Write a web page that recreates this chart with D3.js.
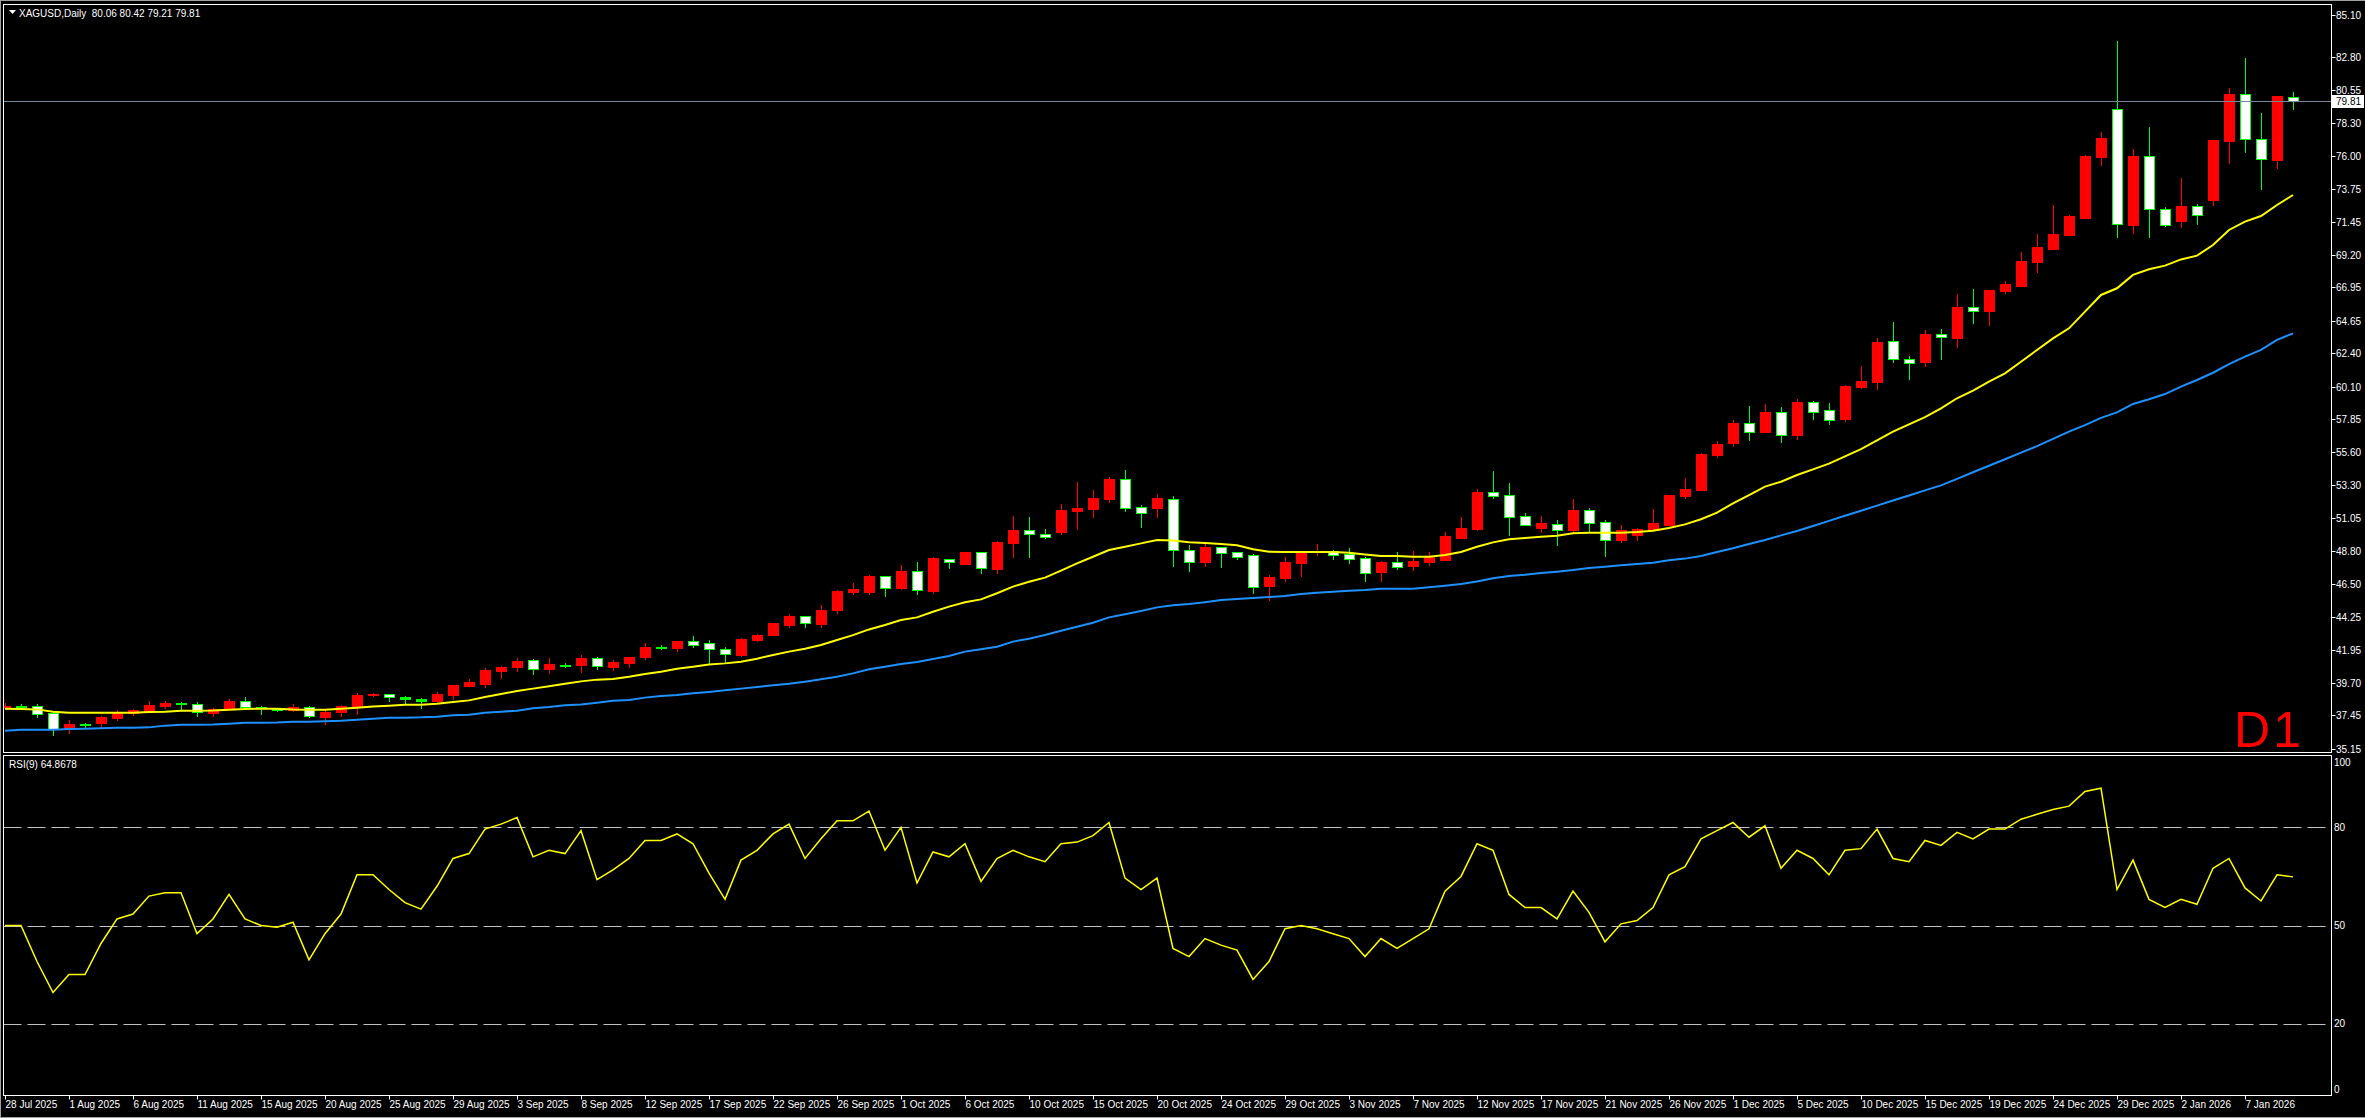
<!DOCTYPE html>
<html><head><meta charset="utf-8">
<script src="https://d3js.org/d3.v7.min.js"></script>
<style>
html,body{margin:0;padding:0;background:#000;overflow:hidden}
svg{display:block}
text{font-family:"Liberation Sans",Arial,sans-serif}
</style></head>
<body>
<script>
// ---------------- DATA ----------------
const symbolTitle = "XAGUSD,Daily";
const titleOHLC = "80.06 80.42 79.21 79.81";
const rsiTitle = "RSI(9) 64.8678";
const currentPrice = 79.81;

const open = [38.02,38.08,38.07,37.59,36.50,36.85,36.92,37.29,37.59,37.77,38.11,38.29,38.25,37.63,37.88,38.41,38.01,37.89,37.82,38.00,
37.36,37.70,38.02,38.89,38.90,38.69,38.55,38.46,38.87,39.47,39.63,40.50,40.78,41.26,40.64,40.95,40.94,41.38,40.80,41.08,
41.49,42.14,42.11,42.55,42.41,42.00,41.61,42.66,43.01,43.70,44.27,43.77,44.73,45.97,45.97,47.03,46.25,47.37,46.02,48.25,
47.90,48.68,47.53,49.35,50.20,49.92,50.11,51.55,51.69,52.38,53.71,51.78,51.76,52.34,48.82,48.04,49.03,48.68,48.48,46.38,
46.94,47.95,48.70,48.75,48.57,48.27,47.35,48.00,47.74,48.04,48.15,49.67,50.27,52.82,52.61,51.16,50.36,50.61,50.22,51.58,
50.75,49.53,49.88,50.22,50.57,52.56,52.98,55.39,56.22,57.57,56.97,58.33,56.77,59.02,58.47,57.85,60.10,60.45,63.22,61.98,
61.82,63.71,63.48,65.57,65.34,66.72,67.06,68.71,69.61,70.55,71.75,75.95,79.24,71.26,75.97,72.32,71.54,72.53,72.99,77.05,
80.25,77.15,75.74,80.06];
const high = [38.28,38.23,38.23,37.70,37.13,36.94,37.40,37.79,37.86,38.44,38.44,38.37,38.37,37.95,38.57,38.69,38.09,37.95,38.23,38.07,
37.82,38.16,38.96,38.96,38.94,38.78,38.64,39.06,39.54,39.95,40.71,40.87,41.40,41.33,41.40,41.05,41.61,41.47,41.24,41.45,
42.43,42.30,42.57,42.92,42.64,42.13,42.78,43.05,43.81,44.43,44.27,45.05,46.09,46.57,47.12,47.03,47.81,48.02,48.36,48.25,
48.70,48.68,49.46,51.19,51.12,50.29,52.01,53.53,52.98,53.88,54.36,51.92,52.70,52.54,49.19,49.23,49.03,48.73,48.57,47.12,
48.36,48.66,49.26,48.84,48.98,48.34,48.06,48.71,48.77,48.68,50.08,51.12,53.05,54.29,53.46,51.37,51.19,50.89,52.36,51.74,
50.91,50.57,50.34,51.67,52.63,53.81,55.53,56.35,57.80,58.77,58.90,58.70,59.25,59.11,58.95,60.22,61.52,63.45,64.56,62.21,
64.00,64.07,66.49,66.83,66.76,67.38,69.38,70.62,72.62,71.93,76.07,77.65,83.92,76.48,77.99,72.46,74.48,72.69,77.10,80.68,
82.75,78.96,80.13,80.42];
const low = [37.98,37.93,37.36,36.09,36.25,36.67,36.58,37.13,37.50,37.77,37.93,37.91,37.43,37.43,37.88,37.95,37.56,37.77,37.75,37.31,
36.87,37.43,37.56,38.80,38.46,38.23,37.98,38.35,38.57,39.47,39.40,40.04,40.50,40.32,40.37,40.80,40.46,40.64,40.60,40.80,
41.31,42.02,41.90,42.18,41.03,41.03,41.56,42.55,42.96,43.56,43.56,43.56,44.52,45.83,45.83,45.70,46.18,45.83,45.90,47.63,
47.90,47.28,47.28,48.38,48.38,49.65,49.97,50.31,51.14,52.17,51.55,50.45,51.14,47.76,47.42,47.76,47.69,48.25,45.90,45.42,
46.71,47.05,48.52,48.22,47.97,46.71,46.71,47.56,47.46,47.79,48.15,49.67,50.22,52.45,49.88,50.59,50.08,49.19,50.06,50.15,
48.43,49.39,49.53,50.22,50.57,52.43,52.98,55.25,56.01,56.42,56.97,56.29,56.49,57.90,57.50,57.70,59.99,59.96,61.82,60.65,
61.55,62.03,62.86,64.51,64.35,66.58,67.06,68.00,69.61,70.53,71.75,75.38,70.44,70.71,70.44,71.20,71.13,71.33,72.64,75.54,
76.30,73.75,75.19,79.21];
const close = [38.11,38.07,37.52,36.53,36.84,36.84,37.31,37.70,37.79,38.16,38.30,38.28,37.68,37.86,38.44,38.00,38.00,37.88,38.02,37.38,
37.68,38.09,38.85,38.90,38.74,38.55,38.41,38.92,39.54,39.75,40.57,40.78,41.19,40.66,40.99,40.94,41.40,40.82,41.11,41.45,
42.16,42.12,42.57,42.32,42.00,41.65,42.71,42.98,43.81,44.27,43.79,44.71,46.02,46.16,47.05,46.20,47.40,46.06,48.29,47.99,
48.70,47.58,49.39,50.22,49.92,49.72,51.60,51.74,52.43,53.74,51.76,51.37,52.43,48.82,48.04,49.05,48.66,48.38,46.32,46.98,
48.02,48.66,48.75,48.52,48.25,47.28,48.02,47.69,48.08,48.34,49.81,50.36,52.84,52.59,51.14,50.59,50.70,50.24,51.60,50.73,
49.56,50.22,50.29,50.70,52.63,53.05,55.46,56.15,57.60,57.00,58.35,56.79,59.04,58.33,57.80,60.17,60.49,63.18,61.98,61.71,
63.73,63.50,65.59,65.34,66.76,67.18,68.76,69.72,70.62,71.86,76.02,77.24,71.29,76.00,72.32,71.26,72.55,71.91,77.10,80.25,
77.15,75.77,80.13,79.81];

const maFast = [37.91,37.88,37.86,37.70,37.63,37.63,37.63,37.63,37.63,37.68,37.70,37.77,37.77,37.79,37.84,37.88,37.91,37.91,37.86,37.84,
37.84,37.91,37.98,38.05,38.11,38.18,38.18,38.25,38.37,38.48,38.71,38.92,39.13,39.29,39.45,39.63,39.79,39.91,39.95,40.11,
40.30,40.46,40.66,40.80,40.96,41.03,41.15,41.35,41.61,41.84,42.04,42.30,42.64,42.98,43.37,43.67,44.02,44.20,44.59,44.94,
45.24,45.44,45.86,46.32,46.66,46.94,47.42,47.92,48.38,48.84,49.07,49.30,49.53,49.49,49.38,49.32,49.26,49.17,48.89,48.73,
48.71,48.71,48.71,48.71,48.66,48.54,48.43,48.43,48.38,48.38,48.50,48.71,49.07,49.37,49.58,49.67,49.76,49.83,49.99,50.04,
50.04,50.04,50.08,50.17,50.36,50.61,50.96,51.42,52.06,52.63,53.21,53.55,54.01,54.40,54.80,55.30,55.80,56.40,57.00,57.50,
58.00,58.61,59.30,59.82,60.44,61.02,61.82,62.63,63.43,64.12,65.27,66.42,66.88,67.80,68.19,68.44,68.87,69.13,69.86,70.90,
71.47,71.86,72.62,73.31];
const maSlow = [36.39,36.46,36.46,36.46,36.50,36.53,36.56,36.60,36.60,36.62,36.74,36.80,36.80,36.82,36.87,36.94,36.94,36.96,37.01,37.01,
37.04,37.08,37.15,37.22,37.29,37.29,37.31,37.36,37.45,37.49,37.63,37.70,37.77,37.93,38.02,38.14,38.20,38.32,38.46,38.50,
38.67,38.78,38.85,38.97,39.06,39.17,39.29,39.40,39.52,39.63,39.77,39.93,40.11,40.34,40.62,40.80,40.99,41.12,41.33,41.54,
41.84,42.00,42.18,42.53,42.73,42.98,43.28,43.56,43.83,44.20,44.41,44.64,44.89,45.03,45.12,45.25,45.40,45.47,45.54,45.60,
45.67,45.81,45.90,45.97,46.04,46.09,46.18,46.18,46.18,46.27,46.38,46.50,46.68,46.89,47.05,47.14,47.26,47.35,47.46,47.60,
47.69,47.79,47.88,47.97,48.13,48.25,48.43,48.71,48.96,49.26,49.53,49.85,50.15,50.50,50.85,51.20,51.55,51.90,52.25,52.60,
52.95,53.30,53.75,54.20,54.65,55.10,55.55,56.00,56.50,57.00,57.45,57.95,58.33,58.91,59.23,59.59,60.10,60.56,61.06,61.66,
62.17,62.63,63.32,63.77];
const rsi = [50,50,39,29.5,35,35,44.5,52,53.5,59,60,60,47.5,52,59.5,52,50,49.5,51,39.5,
47.5,53.5,65.5,65.5,61,57,55,62,70.5,72,79.5,81,83,71,73,72,79,64,67,70.5,
76,76,78,75,66,58,70,73,78,81,70.5,76.5,82,82,85,73,80,63,72.5,71,
75,63.5,70.5,73,71,69.5,75,75.5,77.5,81.5,64.5,61,64.5,43,40.5,46,44,42.5,33.5,39,
49,50,49,47.5,46,40.5,46,43,46,49,60.5,65,75,73,59.5,55.5,55.5,52,60.5,54,
45,50.5,51.5,55.5,65.5,68,76.5,79,81.5,77,80.5,67.5,73,70.5,65.5,73,73.5,79.5,70.5,69.5,
76,74.5,78.5,76.5,79.5,79.5,82.5,84,85.5,86.5,91,92,61,70,58,55.5,58,56.5,67.5,70.5,
61.5,57.5,65.5,64.87];

const priceTicks = ["85.10","82.80","80.55","78.30","76.00","73.75","71.45","69.20","66.95","64.65","62.40","60.10",
"57.85","55.60","53.30","51.05","48.80","46.50","44.25","41.95","39.70","37.45","35.15"];
const rsiTicks = ["100","80","50","20","0"];
const rsiLevels = [80,50,20];
const dateLabels = ["28 Jul 2025","1 Aug 2025","6 Aug 2025","11 Aug 2025","15 Aug 2025","20 Aug 2025","25 Aug 2025","29 Aug 2025",
"3 Sep 2025","8 Sep 2025","12 Sep 2025","17 Sep 2025","22 Sep 2025","26 Sep 2025","1 Oct 2025","6 Oct 2025","10 Oct 2025",
"15 Oct 2025","20 Oct 2025","24 Oct 2025","29 Oct 2025","3 Nov 2025","7 Nov 2025","12 Nov 2025","17 Nov 2025","21 Nov 2025",
"26 Nov 2025","1 Dec 2025","5 Dec 2025","10 Dec 2025","15 Dec 2025","19 Dec 2025","24 Dec 2025","29 Dec 2025","2 Jan 2026","7 Jan 2026"];
const dateLabelStep = 4;

// ---------------- LAYOUT ----------------
const W = 2365, H = 1118;
const L = 3.5, R = 2331.5;
const mainTop = 4.5, mainBot = 752.5;
const rsiTop = 755.5, rsiBot = 1095.5;

const N = open.length;
const x = d3.scaleLinear().domain([0, N - 1]).range([5, 5 + 16 * (N - 1)]);
const y = d3.scaleLinear().domain([35.15, 85.10]).range([748.7, 23.9]);
const yr = d3.scaleLinear().domain([0, 100]).range([1089, 762]);

const svg = d3.select("body").append("svg").attr("width", W).attr("height", H);
svg.append("rect").attr("width", W).attr("height", H).attr("fill", "#000");
// window edge
svg.append("line").attr("x1",0).attr("x2",W).attr("y1",0.5).attr("y2",0.5).attr("stroke","#a0a0a0");
svg.append("line").attr("x1",0.5).attr("x2",0.5).attr("y1",0).attr("y2",H).attr("stroke","#a0a0a0");
svg.append("line").attr("x1",0).attr("x2",W).attr("y1",H-0.5).attr("y2",H-0.5).attr("stroke","#a0a0a0");

const defs = svg.append("defs");
defs.append("clipPath").attr("id","clipMain")
  .append("rect").attr("x",L).attr("y",mainTop).attr("width",R-L).attr("height",mainBot-mainTop);
defs.append("clipPath").attr("id","clipRsi")
  .append("rect").attr("x",L).attr("y",rsiTop).attr("width",R-L).attr("height",rsiBot-rsiTop);

// price axis ticks + labels (top label kept clear of the panel edge like the terminal does)
const pa = svg.append("g");
priceTicks.forEach((t,k) => {
  let yy = Math.round(y(+t)) + 0.5;
  if (k === 0) yy = Math.min(yy, mainTop + 11);
  pa.append("line").attr("x1",R).attr("x2",R+4).attr("y1",yy).attr("y2",yy).attr("stroke","#fff");
  pa.append("text").attr("x",2336).attr("y",yy).attr("dy","0.35em").attr("fill","#fff")
    .attr("font-size","10px").text(t);
});

// candles
const cg = svg.append("g").attr("clip-path","url(#clipMain)");
d3.range(N).forEach(i => {
  const c = Math.round(x(i));
  const bull = close[i] > open[i];
  const col = bull ? "#ff0000" : "#00ff00";
  const yH = Math.round(y(high[i])), yL = Math.round(y(low[i]));
  cg.append("line").attr("x1",c+0.5).attr("x2",c+0.5).attr("y1",yH).attr("y2",yL+1).attr("stroke",col);
  const top = Math.round(y(Math.max(open[i],close[i])));
  const bot = Math.round(y(Math.min(open[i],close[i])));
  const h = Math.max(1, bot - top);
  if (bull) {
    cg.append("rect").attr("x",c-5).attr("y",top).attr("width",11).attr("height",h+1).attr("fill","#ff0000");
  } else if (h <= 2) {
    cg.append("rect").attr("x",c-5).attr("y",top).attr("width",11).attr("height",h+1).attr("fill","#00ff00");
  } else {
    cg.append("rect").attr("x",c-4.5).attr("y",top+0.5).attr("width",10).attr("height",h)
      .attr("fill","#fff").attr("stroke","#00ff00").attr("stroke-width",1);
  }
});

// moving averages
const lineP = arr => d3.line().x((d,i)=>x(i)).y(d=>y(d))(arr);
cg.append("path").attr("d", lineP(maSlow)).attr("fill","none").attr("stroke","#1e90ff").attr("stroke-width",2);
cg.append("path").attr("d", lineP(maFast)).attr("fill","none").attr("stroke","#ffff00").attr("stroke-width",2);

// current price line
const yc = Math.round(y(currentPrice)) + 0.5;
cg.append("line").attr("x1",L).attr("x2",R).attr("y1",yc).attr("y2",yc).attr("stroke","#778899");
svg.append("rect").attr("x",2332).attr("y",yc-6.5).attr("width",32).attr("height",13).attr("fill","#fff");
svg.append("text").attr("x",2336).attr("y",yc).attr("dy","0.35em").attr("fill","#000").attr("font-size","10px").text(currentPrice.toFixed(2));

// D1 label
svg.append("text").attr("x",2304).attr("y",747).attr("text-anchor","end").attr("fill","#ff0000")
  .attr("font-size","50px").attr("letter-spacing","3px").text("D1");

// title
svg.append("path").attr("d","M9,10 L16,10 L12.5,14 Z").attr("fill","#fff");
svg.append("text").attr("x",19).attr("y",13).attr("dy","0.35em").attr("fill","#fff").attr("font-size","10px")
  .style("white-space","pre").text(symbolTitle + "  " + titleOHLC);

// panel borders
svg.append("rect").attr("x",L).attr("y",mainTop).attr("width",R-L).attr("height",mainBot-mainTop)
  .attr("fill","none").attr("stroke","#fff");
svg.append("rect").attr("x",L).attr("y",rsiTop).attr("width",R-L).attr("height",rsiBot-rsiTop)
  .attr("fill","none").attr("stroke","#fff");

// RSI panel
const rg = svg.append("g").attr("clip-path","url(#clipRsi)");
rsiLevels.forEach(v => {
  const yy = Math.round(yr(v)) + 0.5;
  rg.append("line").attr("x1",L).attr("x2",R).attr("y1",yy).attr("y2",yy)
    .attr("stroke","#c0c0c0").attr("stroke-dasharray","18,6");
});
rg.append("path").attr("d", d3.line().x((d,i)=>x(i)).y(d=>yr(d))(rsi))
  .attr("fill","none").attr("stroke","#ffff00").attr("stroke-width",1.5);
rsiTicks.forEach(t => {
  svg.append("text").attr("x",2334).attr("y",yr(+t)).attr("dy","0.35em").attr("fill","#fff")
    .attr("font-size","10px").text(t);
});
svg.append("text").attr("x",9).attr("y",764).attr("dy","0.35em").attr("fill","#fff").attr("font-size","10px").text(rsiTitle);

// date axis
const da = svg.append("g");
dateLabels.forEach((t,k) => {
  const xx = Math.round(x(k*dateLabelStep)) + 0.5;
  da.append("line").attr("x1",xx).attr("x2",xx).attr("y1",rsiBot).attr("y2",rsiBot+4).attr("stroke","#fff");
  da.append("text").attr("x",xx).attr("y",1104).attr("dy","0.35em").attr("fill","#fff").attr("font-size","10px").text(t);
});
</script>
</body></html>
